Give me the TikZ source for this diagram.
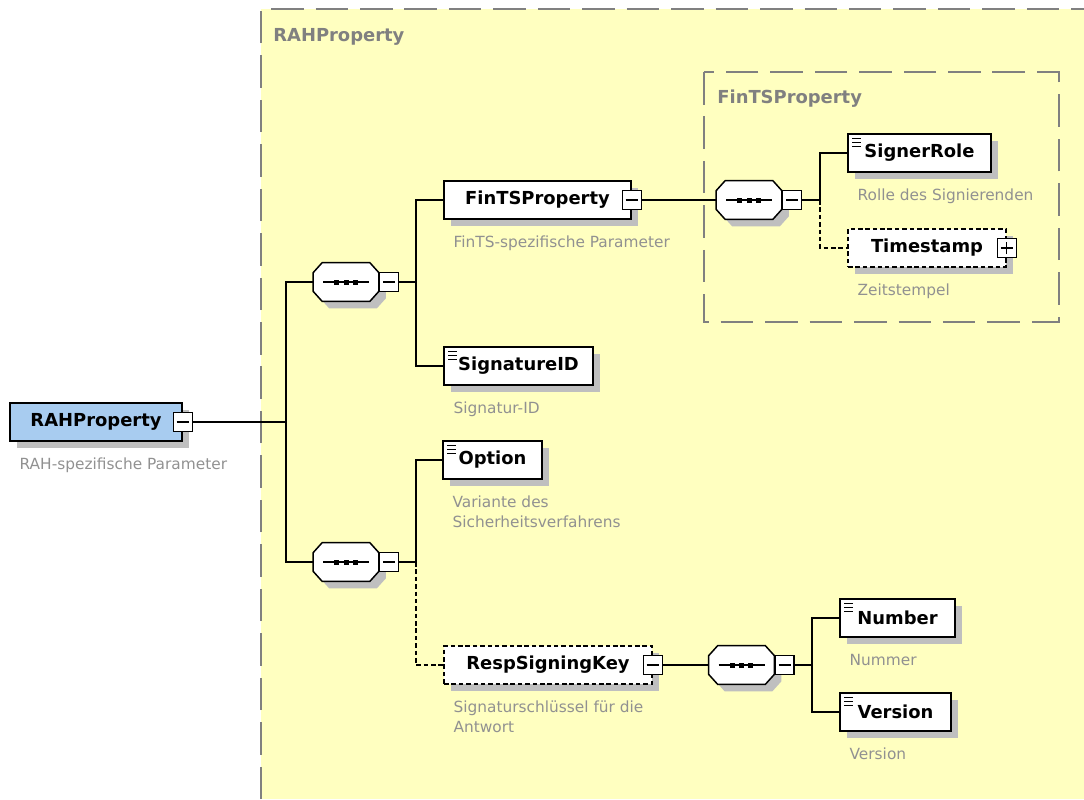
\documentclass[tikz,border=0pt]{standalone}
\usepackage{fontspec}
\setmainfont{DejaVu Sans}
\usetikzlibrary{positioning, shadows}

\definecolor{areayellow}{RGB}{255,255,192}
\definecolor{rootblue}{RGB}{168,204,240}
\definecolor{framegray}{RGB}{128,128,128}
\definecolor{descgray}{RGB}{145,145,145}

\begin{document}
\begin{tikzpicture}[
    x=0.02cm, y=-0.02cm,
    elem/.style={draw, fill=white, line width=0.85pt, minimum height=0.76cm, inner sep=0pt,
        font=\fontsize{10.2}{12}\selectfont\bfseries,
        drop shadow={shadow xshift=0.14cm, shadow yshift=-0.14cm, fill=black!25, opacity=1}},
    root/.style={elem, fill=rootblue},
    optelem/.style={elem, dash pattern=on 2.6pt off 1.6pt},
    leaf/.style={elem, path picture={
        \foreach \k in {0,1,2}
            \draw[line width=0.5pt] ([xshift=0.08cm, yshift=-0.08cm-\k*0.08cm]path picture bounding box.north west) -- ++(0.18cm,0);}},
    seq/.style={minimum width=1.3cm, minimum height=0.76cm, inner sep=0pt},
    octagon/.style={draw, fill=white, line width=0.85pt,
        drop shadow={shadow xshift=0.14cm, shadow yshift=-0.14cm, fill=black!25, opacity=1}},
    mbox/.style={draw, fill=white, line width=0.8pt, minimum size=0.38cm, inner sep=0pt,
        path picture={\draw[line width=0.8pt] ([xshift=-0.12cm]path picture bounding box.center) -- ([xshift=0.12cm]path picture bounding box.center);}},
    pbox/.style={mbox, path picture={
        \draw[line width=0.8pt] ([xshift=-0.12cm]path picture bounding box.center) -- ([xshift=0.12cm]path picture bounding box.center);
        \draw[line width=0.8pt] ([yshift=-0.12cm]path picture bounding box.center) -- ([yshift=0.12cm]path picture bounding box.center);}},
    desc/.style={text=descgray, font=\fontsize{8.75}{11.3}\selectfont, align=left, inner sep=0pt},
    grouplabel/.style={text=framegray, font=\fontsize{10.2}{12}\selectfont\bfseries, inner sep=0pt, anchor=west},
    groupframe/.style={draw=framegray, line width=0.85pt, dash pattern=on 18.5pt off 6.8pt},
    link/.style={line width=0.85pt},
    optlink/.style={link, dash pattern=on 2.6pt off 1.6pt}
]
\useasboundingbox (0,0) rectangle (1084,799);

% groups
\fill[areayellow] (261,9) rectangle (1084,799);
\draw[groupframe] (261,799) |- (1084,9);
\node[grouplabel] (rahtitle) at (273,37) {RAHProperty};
\draw[groupframe] (704,72) rectangle (1059,322);
\node[grouplabel] (fintstitle) at (717,99) {FinTSProperty};

% sequence compositors
\node[seq] (seq1) at (346,282) {};
\node[seq] (seq2) at (346,562) {};
\node[seq] (seq3) at (749,200) {};
\node[seq] (seq4) at (741.5,665) {};
\foreach \s in {seq1,seq2,seq3,seq4} {
    \path[octagon] ([xshift=0.18cm]\s.north west) -- ([xshift=-0.18cm]\s.north east)
        -- ([yshift=-0.2cm]\s.north east) -- ([yshift=0.2cm]\s.south east)
        -- ([xshift=-0.18cm]\s.south east) -- ([xshift=0.18cm]\s.south west)
        -- ([yshift=0.2cm]\s.south west) -- ([yshift=-0.2cm]\s.north west) -- cycle;
    \draw[link] ([xshift=-0.46cm]\s.center) -- ([xshift=0.46cm]\s.center);
    \foreach \d in {-0.185,0,0.185}
        \fill ([xshift=\d cm]\s.center) +(-0.05cm,-0.05cm) rectangle +(0.05cm,0.05cm);
}
\node[mbox, right=0pt of seq1] (seq1m) {};
\node[mbox, right=0pt of seq2] (seq2m) {};
\node[mbox, right=0pt of seq3] (seq3m) {};
\node[mbox, right=0pt of seq4] (seq4m) {};

% root element
\node[root, minimum width=3.44cm] (rah) at (96,422) {RAHProperty};
\node[mbox] (rahm) at (rah.east) {};
\node[desc, below right=0.32cm and 0.2cm of rah.south west] (rahdesc) {RAH-spezifische Parameter};

% first sequence
\node[elem, minimum width=3.74cm] (fints) at (537.5,200) {FinTSProperty};
\node[mbox] (fintsm) at (fints.east) {};
\node[desc, below right=0.32cm and 0.2cm of fints.south west] (fintsdesc) {FinTS-spezifische Parameter};
\node[leaf, minimum width=2.98cm] (sigid) at (518.5,366) {SignatureID};
\node[desc, below right=0.32cm and 0.2cm of sigid.south west] (siginddesc) {Signatur-ID};

% FinTSProperty content
\node[leaf, minimum width=2.86cm] (signer) at (919.5,153) {SignerRole};
\node[desc, below right=0.32cm and 0.2cm of signer.south west] (signerdesc) {Rolle des Signierenden};
\node[optelem, minimum width=3.16cm] (tstamp) at (927,248) {Timestamp\hspace{0.2cm}};
\node[pbox] (tstampp) at (tstamp.east) {};
\node[desc, below right=0.32cm and 0.2cm of tstamp.south west] (tstampdesc) {Zeitstempel};

% second sequence
\node[leaf, minimum width=1.98cm] (option) at (492.5,460) {Option};
\node[desc, below right=0.32cm and 0.2cm of option.south west] (optiondesc) {Variante des\\Sicherheitsverfahrens};
\node[optelem, minimum width=4.16cm] (rsk) at (548,665) {RespSigningKey};
\node[mbox] (rskm) at (rsk.east) {};
\node[desc, below right=0.32cm and 0.2cm of rsk.south west] (rskdesc) {Signaturschlüssel für die\\Antwort};

% RespSigningKey content
\node[leaf, minimum width=2.3cm] (number) at (897.5,618) {Number};
\node[desc, below right=0.32cm and 0.2cm of number.south west] (numberdesc) {Nummer};
\node[leaf, minimum width=2.22cm] (version) at (895.5,712) {Version};
\node[desc, below right=0.32cm and 0.2cm of version.south west] (versiondesc) {Version};

% connectors
\coordinate (rahfork) at (286,422);
\coordinate (seq1fork) at (416,282);
\coordinate (seq2fork) at (416,562);
\coordinate (seq3fork) at (820,200);
\coordinate (seq4fork) at (812,665);
\draw[link] (rahm.east) -- (rahfork);
\draw[link] (rahfork) |- (seq1);
\draw[link] (rahfork) |- (seq2);
\draw[link] (seq1m) -- (seq1fork);
\draw[link] (seq1fork) |- (fints);
\draw[link] (seq1fork) |- (sigid);
\draw[link] (seq2m) -- (seq2fork);
\draw[link] (seq2fork) |- (option);
\draw[optlink] (seq2fork) |- (rsk);
\draw[link] (fintsm) -- (seq3);
\draw[link] (seq3m) -- (seq3fork);
\draw[link] (seq3fork) |- (signer);
\draw[optlink] (seq3fork) |- (tstamp);
\draw[link] (rskm) -- (seq4);
\draw[link] (seq4m) -- (seq4fork);
\draw[link] (seq4fork) |- (number);
\draw[link] (seq4fork) |- (version);
\end{tikzpicture}
\end{document}
